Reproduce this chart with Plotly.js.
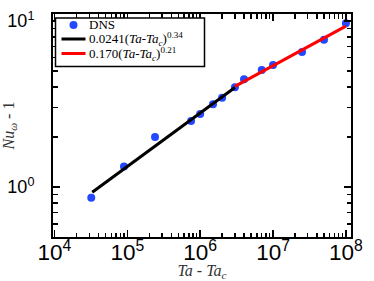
<!DOCTYPE html>
<html>
<head>
<meta charset="utf-8">
<script src="https://cdn.plot.ly/plotly-3.0.1.min.js"></script>
<style>html,body{margin:0;padding:0;background:#fff;}#plot{width:374px;height:281px;}</style>
</head>
<body>
<div id="plot"></div>
<script>
// DNS data
const taDiff = [3.2e4, 9e4, 2.4e5, 7.5e5, 1e6, 1.5e6, 2e6, 3e6, 4e6, 7e6, 1e7, 2.5e7, 5e7, 1e8];
const nuMinus1 = [0.86, 1.33, 2.0, 2.5, 2.75, 3.15, 3.45, 3.98, 4.45, 5.06, 5.42, 6.49, 7.70, 9.66];
// Fit line endpoints
const fit1X = [3.3e4, 3e6];
const fit1Y = [0.93, 3.97];
const fit2X = [3e6, 1e8];
const fit2Y = [4.03, 9.3];
const seriesNames = [
  'DNS',
  '0.0241(<i>Ta</i>-<i>Ta</i><sub><i>c</i></sub>)<sup>0.34</sup>',
  '0.170(<i>Ta</i>-<i>Ta</i><sub><i>c</i></sub>)<sup>0.21</sup>'
];
const seriesColors = ['#2448ff', '#000000', '#ff0000'];
// Tick labels
const yTickVals = [1, 10];
const yTickText = ['10<sup>0</sup>', '10<sup>1</sup>'];
const xDecades = [1e4, 1e5, 1e6, 1e7];
const yDecades = [0.1, 1];
const minorMult = [2, 3, 4, 5, 6, 7, 8, 9];

const xMinor = [];
xDecades.forEach(d => minorMult.forEach(m => xMinor.push(d * m)));
const yMinor = [];
yDecades.forEach(d => minorMult.forEach(m => yMinor.push(d * m)));

const serif = 'Liberation Serif, DejaVu Serif, serif';
const sans = 'Liberation Sans, Arial, sans-serif';

const xRange = [3.98, 8.07];
const yRange = [Math.log10(0.5), Math.log10(11)];

const traces = [
  {x: taDiff, y: nuMinus1, name: seriesNames[0], mode: 'markers', type: 'scatter',
   marker: {color: seriesColors[0], size: 8}},
  {x: fit1X, y: fit1Y, name: seriesNames[1], mode: 'lines', type: 'scatter',
   line: {color: seriesColors[1], width: 3}},
  {x: fit2X, y: fit2Y, name: seriesNames[2], mode: 'lines', type: 'scatter',
   line: {color: seriesColors[2], width: 3}},
  // invisible carrier so that the minor-tick axes are drawn
  {x: [taDiff[0]], y: [nuMinus1[0]], xaxis: 'x2', yaxis: 'y2', mode: 'markers', type: 'scatter',
   marker: {opacity: 0}, showlegend: false, hoverinfo: 'skip'}
];

const axisCommon = {
  type: 'log', dtick: 1, exponentformat: 'power',
  showline: true, linecolor: '#000', linewidth: 2, mirror: 'allticks',
  ticks: 'inside', ticklen: 7, tickwidth: 1.5, tickcolor: '#000',
  showgrid: false, zeroline: false,
  tickfont: {family: sans, size: 18, color: '#000'}
};
const minorAxis = {
  type: 'log', showline: false, mirror: 'ticks', showgrid: false, zeroline: false,
  ticks: 'inside', ticklen: 4.5, tickwidth: 1.3, tickcolor: '#000',
  showticklabels: false, tickmode: 'array'
};

// Manual legend (pixel offsets from the plot's top-left corner)
const px = (x0, x1, y0, y1) => ({xref: 'paper', yref: 'paper', xsizemode: 'pixel', ysizemode: 'pixel',
  xanchor: 0, yanchor: 1, x0: x0, x1: x1, y0: y0, y1: y1});
const shapes = [
  Object.assign({type: 'rect', fillcolor: '#fff', line: {color: '#000', width: 1.5}, layer: 'above'}, px(2.5, 151.5, -4, -52.5)),
  Object.assign({type: 'circle', fillcolor: seriesColors[0], line: {width: 0}, layer: 'above'}, px(16.5, 24.5, -7, -15)),
  Object.assign({type: 'line', line: {color: seriesColors[1], width: 3}, layer: 'above'}, px(8.5, 32.5, -25, -25)),
  Object.assign({type: 'line', line: {color: seriesColors[2], width: 3}, layer: 'above'}, px(8.5, 32.5, -39.5, -39.5))
];
const legendY = [-10.5, -24.5, -39.5];
const annotations = seriesNames.map((t, i) => ({
  text: t, xref: 'paper', yref: 'paper', x: 0, y: 1, xshift: 34, yshift: legendY[i],
  xanchor: 'left', yanchor: 'middle', showarrow: false,
  font: {family: serif, size: 13, color: '#000'}
}));

const layout = {
  width: 374, height: 281,
  margin: {l: 52.5, r: 23, t: 14, b: 43.7, pad: 0},
  paper_bgcolor: '#fff', plot_bgcolor: '#fff',
  showlegend: false,
  shapes: shapes,
  annotations: annotations,
  xaxis: Object.assign({}, axisCommon, {
    range: xRange,
    ticklabelstandoff: -5,
    title: {text: '<i>Ta</i> - <i>Ta</i><sub><i>c</i></sub>', font: {family: serif, size: 16, color: '#333'}, standoff: 3}
  }),
  yaxis: Object.assign({}, axisCommon, {
    range: yRange,
    tickmode: 'array', tickvals: yTickVals, ticktext: yTickText,
    ticklabelstandoff: 13,
    title: {text: '<i>Nu</i><sub><i>ω</i></sub> - 1', font: {family: serif, size: 16, color: '#333'}, standoff: 4}
  }),
  xaxis2: Object.assign({}, minorAxis, {range: xRange, tickvals: xMinor, overlaying: 'x', anchor: 'y2', side: 'bottom'}),
  yaxis2: Object.assign({}, minorAxis, {range: yRange, tickvals: yMinor, overlaying: 'y', anchor: 'x2', side: 'left'})
};

Plotly.newPlot('plot', traces, layout, {staticPlot: true, displayModeBar: false});
</script>
</body>
</html>
